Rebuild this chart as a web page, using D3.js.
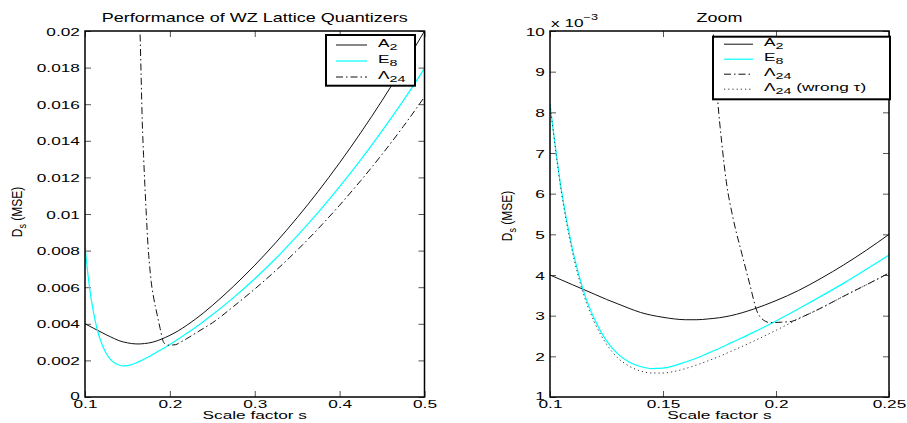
<!DOCTYPE html>
<html>
<head>
<meta charset="utf-8">
<script src="https://cdn.jsdelivr.net/npm/d3@7"></script>
<style>
body { margin: 0; background: #fff; }
text { font-family: "Liberation Sans", Arial, sans-serif; fill: #000; }
</style>
</head>
<body>
<script>
// scale factor grid shared by A2 and E8 (values in units of 1e-3)
var sGrid = [0.100, 0.105, 0.110, 0.115, 0.120, 0.125, 0.130, 0.135, 0.140, 0.145,
	0.150, 0.155, 0.160, 0.165, 0.170, 0.175, 0.180, 0.190, 0.200, 0.210,
	0.220, 0.230, 0.240, 0.250, 0.275, 0.300, 0.325, 0.350, 0.375, 0.400,
	0.425, 0.450, 0.475, 0.500];
var a2Vals = [4.00, 3.88, 3.76, 3.64, 3.52, 3.40, 3.29, 3.18, 3.08, 3.01,
	2.96, 2.92, 2.90, 2.90, 2.92, 2.95, 3.00, 3.16, 3.37, 3.62,
	3.92, 4.25, 4.61, 5.00, 6.05, 7.20, 8.45, 9.80, 11.25, 12.80,
	14.45, 16.20, 18.05, 20.00];
var e8Vals = [8.20, 6.10, 4.62, 3.58, 2.88, 2.38, 2.06, 1.86, 1.75, 1.70,
	1.71, 1.77, 1.86, 1.96, 2.08, 2.20, 2.33, 2.59, 2.87, 3.17,
	3.48, 3.80, 4.14, 4.49, 5.43, 6.46, 7.58, 8.80, 10.10, 11.49,
	12.97, 14.54, 16.20, 17.95];

// Lambda24
var lamS = [0.1645, 0.1660, 0.1675, 0.1690, 0.1705, 0.1720, 0.1742, 0.1760, 0.1780, 0.1810,
	0.1850, 0.1885, 0.1915, 0.1945, 0.1975, 0.2025, 0.2070, 0.2100, 0.2200, 0.2300,
	0.2400, 0.2500, 0.2750, 0.3000, 0.3250, 0.3500, 0.3750, 0.4000, 0.4250, 0.4500,
	0.4750, 0.5000];
var lamVals = [20.6, 17.8, 15.0, 13.2, 11.6, 10.2, 8.30, 7.25, 6.30, 5.40,
	4.50, 3.75, 3.12, 2.89, 2.83, 2.84, 2.86, 2.93, 3.19, 3.48,
	3.76, 4.05, 4.95, 5.90, 6.92, 8.02, 9.21, 10.48, 11.83, 13.26,
	14.78, 16.40];

// Lambda24 with wrong tau (zoom panel only)
var wrongS = [0.100, 0.105, 0.110, 0.115, 0.120, 0.125, 0.130, 0.135, 0.140, 0.145,
	0.150, 0.155, 0.160, 0.165, 0.170, 0.175, 0.180, 0.190, 0.200, 0.210,
	0.220, 0.230, 0.240, 0.250];
var wrongVals = [8.20, 6.05, 4.55, 3.50, 2.80, 2.30, 1.96, 1.76, 1.64, 1.59,
	1.59, 1.63, 1.70, 1.79, 1.89, 2.00, 2.12, 2.37, 2.64, 2.92,
	3.19, 3.48, 3.76, 4.05];

// ticks
var leftXTicks = [0.1, 0.2, 0.3, 0.4, 0.5];
var leftXLabels = ['0.1', '0.2', '0.3', '0.4', '0.5'];
var leftYTicks = [0, 2, 4, 6, 8, 10, 12, 14, 16, 18, 20];
var leftYLabels = ['0', '0.002', '0.004', '0.006', '0.008', '0.01', '0.012', '0.014', '0.016', '0.018', '0.02'];
var rightXTicks = [0.1, 0.15, 0.2, 0.25];
var rightXLabels = ['0.1', '0.15', '0.2', '0.25'];
var rightYTicks = [1, 2, 3, 4, 5, 6, 7, 8, 9, 10];
var rightYLabels = ['1', '2', '3', '4', '5', '6', '7', '8', '9', '10'];

var SX = 1.5; // horizontal stretch of the text
var FS = 11.5;

var svg = d3.select('body').append('svg')
	.attr('width', 907)
	.attr('height', 423);
var defs = svg.append('defs');

var styles = {
	a2: { stroke: '#111', width: 1, dash: null },
	e8: { stroke: '#00ffff', width: 1.2, dash: null },
	lam: { stroke: '#111', width: 1, dash: '7,3,1.5,3' },
	wrong: { stroke: '#333', width: 1, dash: '1.2,3' }
};

function zip(xs, ys) {
	return xs.map((s, i) => [s, ys[i]]);
}

// text with subscript parts, e.g. [['A'], ['2', 'sub']]
function richText(t, parts, subSize, shift) {
	parts.forEach(p => {
		var sp = t.append('tspan').text(p[0]);
		if (p[1] == 'sub') sp.attr('font-size', subSize).attr('dy', shift);
		if (p[1] == 'back') sp.attr('dy', -shift);
	});
}

function panel(cfg) {
	var w = cfg.right - cfg.left, h = cfg.bottom - cfg.top;
	var x = d3.scaleLinear().domain(cfg.xDomain).range([0, w]);
	var y = d3.scaleLinear().domain(cfg.yDomain).range([h, 0]);
	var g = svg.append('g').attr('transform', 'translate(' + cfg.left + ',' + cfg.top + ')');

	defs.append('clipPath').attr('id', cfg.id)
		.append('rect').attr('width', w).attr('height', h);

	// bottom axis
	var bx = g.append('g')
		.attr('transform', 'translate(0,' + h + ')')
		.call(d3.axisBottom(x).tickValues(cfg.xTicks)
			.tickFormat(d => cfg.xLabels[cfg.xTicks.indexOf(d)])
			.tickSizeInner(-6).tickSizeOuter(0).tickPadding(3));
	// left axis
	var ly = g.append('g')
		.call(d3.axisLeft(y).tickValues(cfg.yTicks)
			.tickFormat(d => cfg.yLabels[cfg.yTicks.indexOf(d)])
			.tickSizeInner(-6).tickSizeOuter(0).tickPadding(3.4));
	// mirrored ticks
	var tx = g.append('g')
		.call(d3.axisTop(x).tickValues(cfg.xTicks).tickFormat('').tickSizeInner(-6).tickSizeOuter(0));
	var ry = g.append('g')
		.attr('transform', 'translate(' + w + ',0)')
		.call(d3.axisRight(y).tickValues(cfg.yTicks).tickFormat('').tickSizeInner(-6).tickSizeOuter(0));

	[bx, ly, tx, ry].forEach(a => {
		a.attr('font-size', FS).attr('font-family', null);
		a.select('.domain').remove();
		a.selectAll('.tick line').attr('stroke', '#555');
		a.selectAll('.tick text').attr('transform', 'scale(' + SX + ',1)');
	});
	// lowest label sits just above the x labels
	ly.selectAll('.tick text').attr('dy', (d, i) => i == 0 ? '0.2em' : '0.36em');

	// curves
	var line = d3.line()
		.x(d => x(d[0]))
		.y(d => y(d[1]))
		.curve(d3.curveMonotoneX);
	var plot = g.append('g').attr('clip-path', 'url(#' + cfg.id + ')');
	cfg.series.forEach(sr => {
		var st = styles[sr.key];
		plot.append('path')
			.datum(zip(sr.s, sr.v))
			.attr('fill', 'none')
			.attr('stroke', st.stroke)
			.attr('stroke-width', st.width)
			.attr('stroke-dasharray', st.dash)
			.attr('d', line);
	});

	// frame
	g.append('rect')
		.attr('width', w).attr('height', h)
		.attr('fill', 'none').attr('stroke', '#000').attr('stroke-width', 1.5);

	// title
	svg.append('text')
		.attr('transform', 'translate(' + (cfg.left + w / 2) + ',22) scale(' + SX + ',1)')
		.attr('text-anchor', 'middle')
		.attr('font-size', 12)
		.text(cfg.title);

	// x label
	svg.append('text')
		.attr('transform', 'translate(' + (cfg.left + w / 2) + ',419) scale(' + SX + ',1)')
		.attr('text-anchor', 'middle')
		.attr('font-size', FS)
		.text('Scale factor s');

	// y label
	var yl = svg.append('text')
		.attr('transform', 'translate(' + cfg.yLabelX + ',' + cfg.yLabelY + ') scale(1.2,1) rotate(-90)')
		.attr('text-anchor', 'middle')
		.attr('font-size', 12);
	richText(yl, [['D'], ['s', 'sub'], [' (MSE)', 'back']], 9, 3.5);

	// legend
	var L = cfg.legend;
	var lg = svg.append('g').attr('transform', 'translate(' + L.x + ',' + L.y + ')');
	lg.append('rect')
		.attr('width', L.w).attr('height', L.h)
		.attr('fill', '#fff').attr('stroke', '#000').attr('stroke-width', 2);
	L.items.forEach((it, i) => {
		var st = styles[it.key];
		var yy = L.first + i * L.step;
		lg.append('line')
			.attr('x1', L.lx0).attr('x2', L.lx1)
			.attr('y1', yy).attr('y2', yy)
			.attr('stroke', st.stroke)
			.attr('stroke-width', st.width)
			.attr('stroke-dasharray', st.dash);
		var t = lg.append('text')
			.attr('transform', 'translate(' + L.tx + ',' + (yy + 2) + ') scale(' + SX + ',1)')
			.attr('font-size', FS);
		richText(t, it.parts, 9.5, 3);
	});

	return g;
}

panel({
	id: 'clipL',
	left: 85, right: 424.5, top: 31, bottom: 397,
	xDomain: [0.1, 0.5], yDomain: [0, 20],
	xTicks: leftXTicks, xLabels: leftXLabels,
	yTicks: leftYTicks, yLabels: leftYLabels,
	title: 'Performance of WZ Lattice Quantizers',
	yLabelX: 22, yLabelY: 212,
	series: [
		{ key: 'a2', s: sGrid, v: a2Vals },
		{ key: 'e8', s: sGrid, v: e8Vals },
		{ key: 'lam', s: lamS, v: lamVals }
	],
	legend: {
		x: 326, y: 35, w: 89, h: 50.7, first: 10, step: 16,
		lx0: 10, lx1: 41, tx: 52,
		items: [
			{ key: 'a2', parts: [['A'], ['2', 'sub']] },
			{ key: 'e8', parts: [['E'], ['8', 'sub']] },
			{ key: 'lam', parts: [['\u039B'], ['24', 'sub']] }
		]
	}
});

panel({
	id: 'clipR',
	left: 550, right: 889, top: 31, bottom: 397,
	xDomain: [0.1, 0.25], yDomain: [1, 10],
	xTicks: rightXTicks, xLabels: rightXLabels,
	yTicks: rightYTicks, yLabels: rightYLabels,
	title: 'Zoom',
	yLabelX: 512, yLabelY: 216,
	series: [
		{ key: 'a2', s: sGrid, v: a2Vals },
		{ key: 'e8', s: sGrid, v: e8Vals },
		{ key: 'lam', s: lamS, v: lamVals },
		{ key: 'wrong', s: wrongS, v: wrongVals }
	],
	legend: {
		x: 713, y: 36.7, w: 177, h: 62.6, first: 7.5, step: 15,
		lx0: 11, lx1: 40, tx: 51,
		items: [
			{ key: 'a2', parts: [['A'], ['2', 'sub']] },
			{ key: 'e8', parts: [['E'], ['8', 'sub']] },
			{ key: 'lam', parts: [['\u039B'], ['24', 'sub']] },
			{ key: 'wrong', parts: [['\u039B'], ['24', 'sub'], [' (wrong \u03C4)', 'back']] }
		]
	}
});

// exponent label
var ex = svg.append('text')
	.attr('transform', 'translate(551,27) scale(' + SX + ',1)')
	.attr('font-size', FS);
ex.append('tspan').text('x 10');
ex.append('tspan').attr('font-size', 8.5).attr('dy', -7).text('\u22123');
</script>
</body>
</html>
